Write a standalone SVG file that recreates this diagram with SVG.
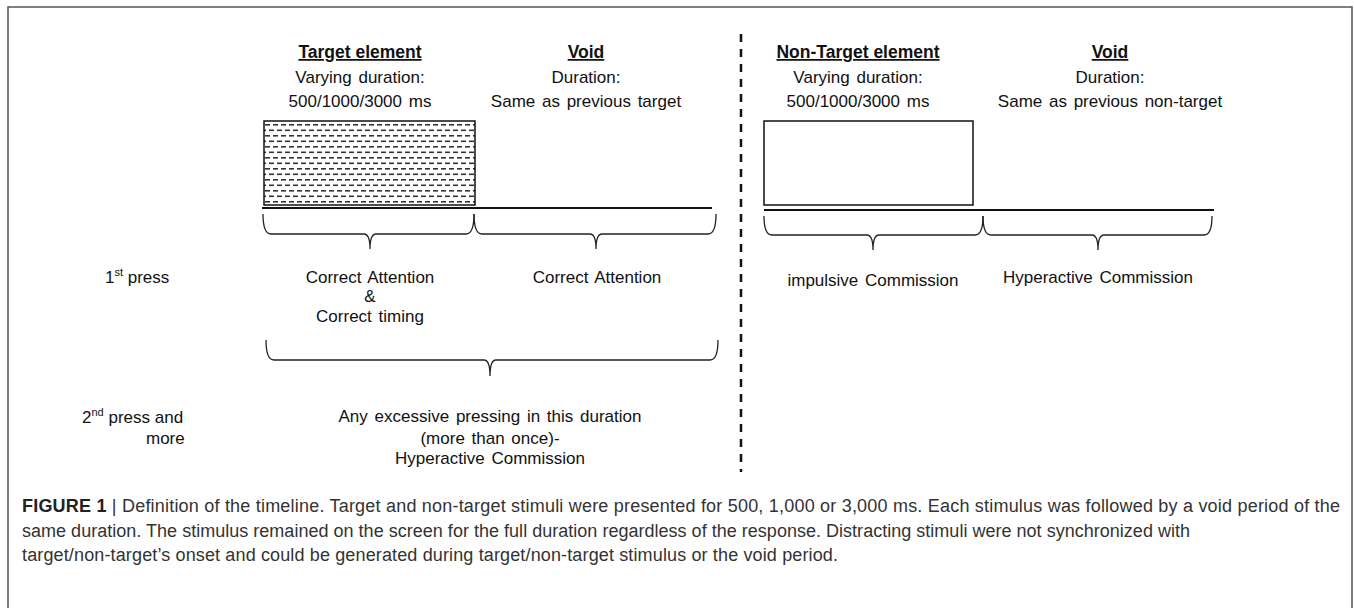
<svg xmlns="http://www.w3.org/2000/svg" width="1354" height="608" viewBox="0 0 1354 608">
<style>
text{font-family:"Liberation Sans",Arial,sans-serif;fill:#111;}
.lbl{font-size:17px;text-anchor:middle;word-spacing:2px;}
.hd{font-size:17.5px;font-weight:bold;text-anchor:middle;text-decoration:underline;}
.side{font-size:17px;}
.cap{font-size:18px;fill:#333;}
.brace{fill:none;stroke:#222;stroke-width:1.3;}
.tl{stroke:#111;stroke-width:2.2;}
</style>
<defs>
<pattern id="hatch" patternUnits="userSpaceOnUse" x="265" y="122" width="8" height="11">
<rect x="0" y="2" width="5" height="1.6" fill="#333"/>
<rect x="4" y="7.5" width="4" height="1.6" fill="#333"/>
<rect x="0" y="7.5" width="1" height="1.6" fill="#333"/>
</pattern>
</defs>
<rect x="8" y="7" width="1344" height="640" fill="#fff" stroke="#555" stroke-width="1.5"/>

<g id="target-element">
<text class="hd" x="360" y="58">Target element</text>
<text class="lbl" x="360" y="83">Varying duration:</text>
<text class="lbl" x="360" y="107">500/1000/3000  ms</text>
<rect x="264" y="121" width="211" height="84" fill="url(#hatch)" stroke="#111" stroke-width="1.5"/>
</g>
<g id="void-target">
<text class="hd" x="586" y="58">Void</text>
<text class="lbl" x="586" y="83">Duration:</text>
<text class="lbl" x="586" y="107">Same as previous target</text>
</g>
<g id="nontarget-element">
<text class="hd" x="858" y="58">Non-Target element</text>
<text class="lbl" x="858" y="83">Varying duration:</text>
<text class="lbl" x="858" y="107">500/1000/3000  ms</text>
<rect x="764" y="121" width="209" height="84" fill="#fff" stroke="#111" stroke-width="1.5"/>
</g>
<g id="void-nontarget">
<text class="hd" x="1110" y="58">Void</text>
<text class="lbl" x="1110" y="83">Duration:</text>
<text class="lbl" x="1110" y="107">Same as previous  non-target</text>
</g>

<g id="connectors">
<line class="tl" x1="262" y1="208" x2="712" y2="208"/>
<line class="tl" x1="764" y1="210" x2="1214" y2="210"/>
<line x1="741" y1="34" x2="741" y2="472" stroke="#111" stroke-width="2.5" stroke-dasharray="8,7"/>
<path class="brace" d="M263,214 Q263,234 271,234 L364,234 Q370,234 370,249 M370,249 Q370,234 376,234 L466,234 Q474,234 474,214"/>
<path class="brace" d="M474,214 Q474,234 482,234 L590,234 Q596,234 596,249 M596,249 Q596,234 602,234 L708,234 Q716,234 716,214"/>
<path class="brace" d="M764,216 Q764,235 772,235 L867,235 Q873,235 873,250 M873,250 Q873,235 879,235 L975,235 Q983,235 983,216"/>
<path class="brace" d="M983,216 Q983,235 991,235 L1092,235 Q1098,235 1098,250 M1098,250 Q1098,235 1104,235 L1204,235 Q1212,235 1212,216"/>
<path class="brace" d="M266,340 Q266,360 274,360 L484,360 Q490,360 490,376 M490,376 Q490,360 496,360 L710,360 Q718,360 718,340"/>
</g>

<g id="row-labels">
<text class="side" x="105" y="283">1<tspan font-size="11" dy="-7">st</tspan><tspan dy="7"> press</tspan></text>
<text class="side" x="82" y="423">2<tspan font-size="11" dy="-7">nd</tspan><tspan dy="7">  press and</tspan></text>
<text class="side" x="146" y="444">more</text>
</g>
<g id="first-press">
<text class="lbl" x="370" y="283">Correct Attention</text>
<text class="lbl" x="370" y="302">&amp;</text>
<text class="lbl" x="370" y="322">Correct timing</text>
<text class="lbl" x="597" y="283">Correct Attention</text>
<text class="lbl" x="873" y="286">impulsive Commission</text>
<text class="lbl" x="1098" y="283">Hyperactive Commission</text>
</g>
<g id="second-press">
<text class="lbl" x="490" y="422">Any excessive pressing in this duration</text>
<text class="lbl" x="490" y="444">(more than once)-</text>
<text class="lbl" x="490" y="464">Hyperactive Commission</text>
</g>

<g id="caption">
<text class="cap" x="22" y="512" textLength="1318" lengthAdjust="spacing"><tspan font-weight="bold" fill="#222">FIGURE 1</tspan>  |  Definition of the timeline. Target and non-target stimuli were presented for 500, 1,000 or 3,000 ms. Each stimulus was followed by a void period of the</text>
<text class="cap" x="22" y="537" textLength="1168" lengthAdjust="spacing">same duration. The stimulus remained on the screen for the full duration regardless of the response. Distracting stimuli were not synchronized with</text>
<text class="cap" x="22" y="561" textLength="816" lengthAdjust="spacing">target/non-target’s onset and could be generated during target/non-target stimulus or the void period.</text>
</g>
</svg>
